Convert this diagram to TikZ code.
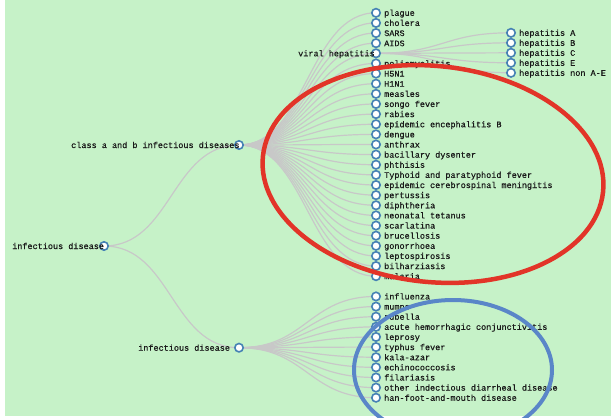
\documentclass[tikz,border=0pt]{standalone}
\usepackage{fontspec}
\newfontfamily\lblfont{Liberation Mono}[FakeBold=0.6]
\pgfdeclarelayer{bg}
\pgfsetlayers{bg,main}
\definecolor{bggreen}{RGB}{198,242,200}
\definecolor{linkgray}{RGB}{200,200,200}
\definecolor{nodeblue}{RGB}{70,130,180}
\definecolor{annred}{RGB}{226,52,40}
\definecolor{annblue}{RGB}{90,134,200}
\tikzset{
  dot/.style={circle, draw=nodeblue, fill=white, line width=1.6pt, minimum size=8.4pt, inner sep=0pt},
  lbl/.style={font=\lblfont\fontsize{8.5}{10}\selectfont, text=black!90, inner sep=0pt},
  link/.style={draw=linkgray, line width=1.2pt},
  diag/.style={out=0, in=180, out distance=67.5pt, in distance=67.5pt},
  annot/.style={line width=4.5pt}
}
\begin{document}
\begin{tikzpicture}[x=1pt,y=-1pt]
\useasboundingbox (0,0) rectangle (611,418);
\begin{pgfonlayer}{bg}
  \fill[bggreen] (5,0) rectangle (611,416);
\end{pgfonlayer}
% internal nodes
\node[dot] (root) at (104,246) {};
\node[lbl, anchor=base west] (troot) at (12,249) {infectious disease};
\node[dot] (ca) at (239,145) {};
\node[lbl, anchor=base west] (tca) at (71,148) {class a and b infectious diseases};
\node[dot] (cb) at (239,347.7) {};
\node[lbl, anchor=base west] (tcb) at (138,350.7) {infectious disease};
\node[dot] (n4) at (376,{12.8+10.13*4}) {};
\node[lbl, anchor=base west] (t4) at (298,{15.8+10.13*4}) {viral hepatitis};
% leaves of class a and b / second group
\foreach \i/\t in {0/plague,1/cholera,2/SARS,3/AIDS,5/poliomyelitis,6/H5N1,7/H1N1,8/measles,9/songo fever,10/rabies,11/epidemic encephalitis B,12/dengue,13/anthrax,14/bacillary dysenter,15/phthisis,16/Typhoid and paratyphoid fever,17/epidemic cerebrospinal meningitis,18/pertussis,19/diphtheria,20/neonatal tetanus,21/scarlatina,22/brucellosis,23/gonorrhoea,24/leptospirosis,25/bilharziasis,26/malaria,28/influenza,29/mumps,30/rubella,31/acute hemorrhagic conjunctivitis,32/leprosy,33/typhus fever,34/kala-azar,35/echinococcosis,36/filariasis,37/other indectious diarrheal disease,38/han-foot-and-mouth disease}{
  \node[dot] (n\i) at (376,{12.8+10.13*\i}) {};
  \node[lbl, anchor=base west] (t\i) at (384,{15.8+10.13*\i}) {\t};
}
% hepatitis leaves
\foreach \j/\t in {0/hepatitis A,1/hepatitis B,2/hepatitis C,3/hepatitis E,4/hepatitis non A-E}{
  \node[dot] (h\j) at (511,{32.8+10*\j}) {};
  \node[lbl, anchor=base west] (th\j) at (519,{35.8+10*\j}) {\t};
}
\begin{pgfonlayer}{bg}
  \draw[link] (root.center) to[diag] (ca.center);
  \draw[link] (root.center) to[diag] (cb.center);
  \foreach \i in {0,...,26}{
    \draw[link] (ca.center) to[diag] (n\i.center);
  }
  \foreach \i in {28,...,38}{
    \draw[link] (cb.center) to[diag] (n\i.center);
  }
  \foreach \j in {0,...,4}{
    \draw[link] (n4.center) to[diag] (h\j.center);
  }
\end{pgfonlayer}
% annotations
\draw[annot, annred, rotate around={-6:(433,174)}] (433,174) ellipse [x radius=171, y radius=108];
\draw[annot, annblue, line width=4pt] (453,370) ellipse [x radius=99, y radius=70];
\end{tikzpicture}
\end{document}
